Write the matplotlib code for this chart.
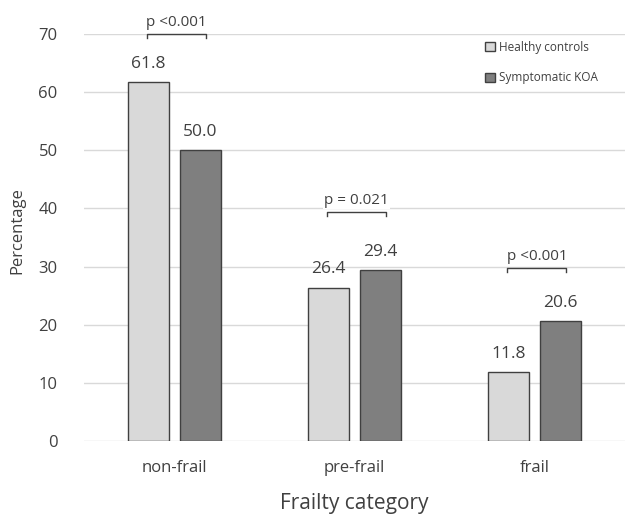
import matplotlib
matplotlib.use('Agg')
import matplotlib.pyplot as plt
import numpy as np

categories = ['non-frail', 'pre-frail', 'frail']
healthy = [61.8, 26.4, 11.8]
koa = [50.0, 29.4, 20.6]
p_labels = ['p <0.001', 'p = 0.021', 'p <0.001']
p_heights = [70.0, 39.4, 29.8]

plt.rcParams['font.family'] = ['Open Sans', 'DejaVu Sans']
txt = '#404040'

fig = plt.figure(figsize=(6.25, 5.16), dpi=100)
ax = fig.add_axes([84 / 625, 75 / 516, 1 - 84 / 625, 407 / 516])

x = np.arange(len(categories))
w = 0.2265
off = 0.144
b1 = ax.bar(x - off, healthy, w, color='#d9d9d9', edgecolor='#404040', linewidth=1,
            label='Healthy controls', zorder=3)
b2 = ax.bar(x + off, koa, w, color='#7f7f7f', edgecolor='#404040', linewidth=1,
            label='Symptomatic KOA', zorder=3)

for bars, vals in [(b1, healthy), (b2, koa)]:
    for r, v in zip(bars, vals):
        ax.text(r.get_x() + r.get_width() / 2, v + 3.1, '%.1f' % v, ha='center',
                va='center', fontsize=12.5, color=txt)

for i, (lab, h) in enumerate(zip(p_labels, p_heights)):
    x0, x1 = i - 0.152, i + 0.174
    ax.plot([x0, x0, x1, x1], [h - 0.7, h, h, h - 0.7], color='#404040', lw=1,
            clip_on=False, zorder=4)
    ax.text((x0 + x1) / 2, h + 0.7, lab, ha='center', va='bottom', fontsize=11,
            color=txt, zorder=4,
            bbox=dict(facecolor='white', edgecolor='none', pad=1))

ax.set_xlim(-0.5, 2.5)
ax.set_ylim(0, 70)
ax.set_yticks(range(0, 71, 10))
ax.set_xticks(x)
ax.set_xticklabels(categories)
ax.tick_params(length=0, labelsize=12, colors=txt, pad=14)
ax.tick_params(axis='y', pad=19)
ax.grid(axis='y', color='#d9d9d9', lw=1, zorder=0)
for s in ax.spines.values():
    s.set_visible(False)

ax.set_ylabel('Percentage', fontsize=12, color=txt)
ax.yaxis.set_label_coords(-0.109, 0.516)
ax.set_xlabel('Frailty category', fontsize=15, color=txt, labelpad=12)

ax.legend(loc='upper right', bbox_to_anchor=(0.97, 1.01), frameon=False, fontsize=8.5,
          handlelength=0.8, handleheight=0.8, labelspacing=1.5, handletextpad=0.4,
          labelcolor=txt)

plt.savefig('out.png', dpi=100)
